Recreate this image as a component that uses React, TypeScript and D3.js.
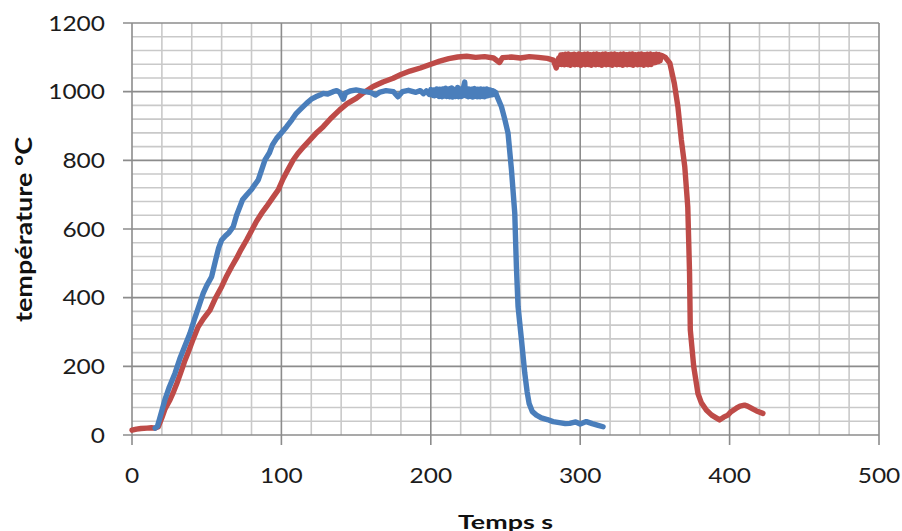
import React from "react";
import * as d3 from "d3";

// ---- axis ticks ----
const xTicks = [0, 100, 200, 300, 400, 500];
const yTicks = [0, 200, 400, 600, 800, 1000, 1200];
const xMinor = d3.range(0, 501, 20);
const yMinor = d3.range(0, 1201, 40);

// ---- series: blue (time s, temperature °C) ----
const blueRise: [number, number][] = [
  [15.5, 20], [17, 25], [19, 55], [22, 102], [25, 140], [28.8, 180], [32, 222], [35, 255], [38.8, 296], [42, 340],
  [45, 378], [47.7, 413], [50, 435], [53.3, 461], [56, 510], [58, 545], [60, 568], [63, 582], [65, 590], [67.8, 607],
  [70, 640], [72.2, 665], [74, 685], [76.7, 699], [80, 715], [82, 728], [84.5, 743], [87, 775], [89, 801], [92, 822],
  [94, 845], [96.8, 864], [100, 880], [103.5, 898], [107, 918], [110, 937], [113, 950], [116.8, 966], [120, 978], [123, 985],
  [125.8, 990], [128, 995], [131, 993], [134.6, 1000], [137, 1003], [139, 998], [141.4, 978], [143, 996], [146, 1002], [150, 1005],
  [155, 1001], [160, 997], [163, 990], [166, 999], [170, 1003], [175, 1000], [178, 985], [181, 1000], [185, 1004], [190, 998],
  [193, 1003], [195, 994], [197, 1002], [199, 992],
];
const bluePlateau: [number, number][] = [
  [200, 1006], [200.5, 991], [201, 1004], [201.5, 989], [202, 1005], [202.5, 988], [203, 1003], [203.5, 990], [204, 1008], [204.5, 989],
  [205, 1006], [205.5, 986], [206, 1007], [206.5, 988], [207, 1004], [207.5, 985], [208, 1008], [208.5, 990], [209, 1006], [209.5, 987],
  [210, 1010], [210.5, 986], [211, 1005], [211.5, 988], [212, 1007], [212.5, 985], [213, 1009], [213.5, 988], [214, 1011], [214.5, 984],
  [215, 1006], [215.5, 987], [216, 1004], [216.5, 986], [217, 1008], [217.5, 989], [218, 1012], [218.5, 985], [219, 1006], [219.5, 987],
  [220, 1008], [220.5, 986], [221, 1007], [221.5, 988], [222, 1015], [222.7, 1028], [223.2, 990], [223.6, 1006], [224, 987], [224.5, 1005],
  [225, 985], [225.5, 1008], [226, 987], [226.5, 1006], [227, 986], [227.5, 1007], [228, 984], [228.5, 1008], [229, 986], [229.5, 1009],
  [230, 987], [230.5, 1006], [231, 985], [231.5, 1007], [232, 986], [232.5, 1006], [233, 985], [233.5, 1008], [234, 987], [234.5, 1006],
  [235, 986], [235.5, 1007], [236, 985], [236.5, 1006], [237, 987], [237.5, 1008], [238, 988], [238.5, 1006], [239, 989], [239.5, 1005],
  [240, 990], [240.5, 1004], [241, 991], [241.5, 1003], [242, 992], [242.5, 1001], [243, 993], [243.5, 998], [244, 990],
];
const blueFall: [number, number][] = [
  [247.3, 956], [249.5, 920], [251.7, 879], [254, 772], [256.2, 646], [257.3, 490], [258.4, 374], [260.7, 277], [262.9, 180], [264.5, 125],
  [265.8, 92], [268, 68], [270.7, 58], [274, 50], [278, 45], [281.8, 39], [286, 36], [290, 33], [293, 34], [297, 38],
  [300, 32], [304.1, 39], [308, 33], [312, 28], [315.3, 24],
];

// ---- series: red (time s, temperature °C) ----
const redRise: [number, number][] = [
  [0, 14], [3, 17], [6, 19], [10, 20], [13, 21], [15.5, 20], [17.6, 24], [20, 50], [22, 75], [25.4, 102],
  [28, 128], [30, 150], [32.5, 180], [35.5, 218], [38, 245], [41, 280], [44.3, 315], [48, 340], [52.2, 364], [56, 400],
  [60, 432], [63, 460], [66.7, 490], [70, 515], [73, 540], [76.7, 568], [80, 595], [83, 620], [86.8, 646], [90, 665],
  [94, 690], [97.9, 714], [101, 745], [104, 770], [107.9, 801], [111, 820], [115, 840], [119, 859], [123, 878], [128, 898],
  [133, 922], [139, 947], [144, 965], [150.3, 981], [155, 997], [161.4, 1015], [168, 1028], [174.8, 1039], [180, 1050], [186, 1060],
  [193, 1069], [200, 1080], [206, 1089], [212, 1096], [218, 1101], [224, 1103], [230, 1100], [236, 1102], [242, 1098], [246, 1085],
  [248, 1099], [254, 1101], [260, 1098], [266, 1102], [272, 1100], [278, 1097], [282, 1092], [284, 1069], [285.6, 1098],
];
const redBand: [number, number][] = [
  [286.5, 1080], [287, 1107], [287.5, 1079], [288, 1108], [288.5, 1082], [289, 1106], [289.5, 1078], [290, 1109], [290.5, 1081], [291, 1105],
  [291.5, 1079], [292, 1110], [292.5, 1083], [293, 1106], [293.5, 1077], [294, 1108], [294.5, 1080], [295, 1107], [295.5, 1082], [296, 1109],
  [296.5, 1078], [297, 1105], [297.5, 1081], [298, 1108], [298.5, 1079], [299, 1110], [299.5, 1083], [300, 1106], [300.5, 1077], [301, 1108],
  [301.5, 1080], [302, 1107], [302.5, 1082], [303, 1109], [303.5, 1078], [304, 1106], [304.5, 1081], [305, 1110], [305.5, 1079], [306, 1105],
  [306.5, 1083], [307, 1108], [307.5, 1077], [308, 1107], [308.5, 1080], [309, 1109], [309.5, 1082], [310, 1106], [310.5, 1078], [311, 1110],
  [311.5, 1081], [312, 1105], [312.5, 1079], [313, 1108], [313.5, 1083], [314, 1107], [314.5, 1077], [315, 1109], [315.5, 1080], [316, 1106],
  [316.5, 1082], [317, 1110], [317.5, 1078], [318, 1105], [318.5, 1081], [319, 1108], [319.5, 1079], [320, 1107], [320.5, 1083], [321, 1109],
  [321.5, 1077], [322, 1106], [322.5, 1080], [323, 1110], [323.5, 1082], [324, 1105], [324.5, 1078], [325, 1108], [325.5, 1081], [326, 1107],
  [326.5, 1079], [327, 1109], [327.5, 1083], [328, 1106], [328.5, 1077], [329, 1110], [329.5, 1080], [330, 1105], [330.5, 1082], [331, 1108],
  [331.5, 1078], [332, 1107], [332.5, 1081], [333, 1109], [333.5, 1079], [334, 1106], [334.5, 1083], [335, 1110], [335.5, 1077], [336, 1105],
  [336.5, 1080], [337, 1108], [337.5, 1082], [338, 1107], [338.5, 1078], [339, 1109], [339.5, 1081], [340, 1106], [340.5, 1079], [341, 1110],
  [341.5, 1083], [342, 1105], [342.5, 1077], [343, 1108], [343.5, 1080], [344, 1107], [344.5, 1082], [345, 1109], [345.5, 1078], [346, 1106],
  [346.5, 1081], [347, 1110], [347.5, 1079], [348, 1105], [348.5, 1083], [349, 1108], [349.5, 1084], [350, 1107], [350.5, 1085], [351, 1109],
  [351.5, 1087], [352, 1106], [352.5, 1088], [353, 1108], [353.5, 1090], [354, 1106],
];
const redFall: [number, number][] = [
  [354.8, 1105], [357, 1100], [360, 1083], [363, 1024], [365.4, 956], [367.7, 859], [370, 781], [372, 665], [373.2, 471], [373.7, 306],
  [376, 199], [378.8, 121], [381, 95], [384.4, 73], [388, 58], [393.3, 44], [396, 52], [398.8, 58], [401, 68], [404.5, 78],
  [407, 84], [410, 87], [412, 84], [414.5, 78], [418, 70], [422.3, 63],
];

const W = 902;
const H = 531;

export default function App() {
  const x = d3.scaleLinear().domain([0, 500]).range([132, 879]);
  const y = d3.scaleLinear().domain([0, 1200]).range([435, 23]);

  const line = d3
    .line<[number, number]>()
    .x((d) => x(d[0]))
    .y((d) => y(d[1]));

  const blue = [...blueRise, ...bluePlateau, ...blueFall];
  const red = [...redRise, ...redBand, ...redFall];

  const labelFont = "Lato, 'Liberation Sans', sans-serif";
  const digitW = 14.2;

  return (
    <svg
      width={W}
      height={H}
      style={{ position: "absolute", left: 0, top: 0, background: "#fff" }}
    >
      <rect x={0} y={0} width={W} height={H} fill="#fff" />
      {/* minor grid */}
      {xMinor.filter((v) => v % 100 !== 0).map((v) => (
        <line key={"xm" + v} x1={x(v)} x2={x(v)} y1={y(1200)} y2={y(0)} stroke="#c9c9c9" strokeWidth={1.6} />
      ))}
      {yMinor.filter((v) => v % 200 !== 0).map((v) => (
        <line key={"ym" + v} x1={x(0)} x2={x(500)} y1={y(v)} y2={y(v)} stroke="#c9c9c9" strokeWidth={1.6} />
      ))}
      {/* major grid + ticks */}
      {xTicks.map((v) => (
        <line key={"xM" + v} x1={x(v)} x2={x(v)} y1={y(1200)} y2={y(0) + 10} stroke="#8c8c8c" strokeWidth={1.6} />
      ))}
      {yTicks.map((v) => (
        <line key={"yM" + v} x1={x(0) - 9} x2={x(500)} y1={y(v)} y2={y(v)} stroke="#8c8c8c" strokeWidth={1.6} />
      ))}

      {/* series */}
      <path d={line(red) || ""} fill="none" stroke="#BE4B48" strokeWidth={5.4} strokeLinejoin="round" strokeLinecap="round" />
      <path d={line(blue) || ""} fill="none" stroke="#4A7EBB" strokeWidth={5.4} strokeLinejoin="round" strokeLinecap="round" />

      {/* y tick labels */}
      {yTicks.map((v) => {
        const s = String(v);
        return (
          <text
            key={"yl" + v}
            x={105}
            y={y(v) + 7.5}
            textAnchor="end"
            fontFamily={labelFont}
            fontSize={21}
            fill="#1c1c1c"
            textLength={digitW * s.length}
            lengthAdjust="spacingAndGlyphs"
          >
            {s}
          </text>
        );
      })}
      {/* x tick labels */}
      {xTicks.map((v) => {
        const s = String(v);
        return (
          <text
            key={"xl" + v}
            x={x(v)}
            y={483}
            textAnchor="middle"
            fontFamily={labelFont}
            fontSize={21.5}
            fill="#1c1c1c"
            textLength={digitW * s.length}
            lengthAdjust="spacingAndGlyphs"
          >
            {s}
          </text>
        );
      })}

      {/* axis titles */}
      <text
        x={505.5}
        y={528.5}
        textAnchor="middle"
        fontFamily={labelFont}
        fontWeight="bold"
        fontSize={19.5}
        fill="#111"
        textLength={95}
        lengthAdjust="spacingAndGlyphs"
      >
        Temps s
      </text>
      <text
        transform={`translate(32,229.5) rotate(-90)`}
        textAnchor="middle"
        fontFamily={labelFont}
        fontWeight="bold"
        fontSize={22}
        fill="#111"
        textLength={185}
        lengthAdjust="spacingAndGlyphs"
      >
        température °C
      </text>
    </svg>
  );
}
